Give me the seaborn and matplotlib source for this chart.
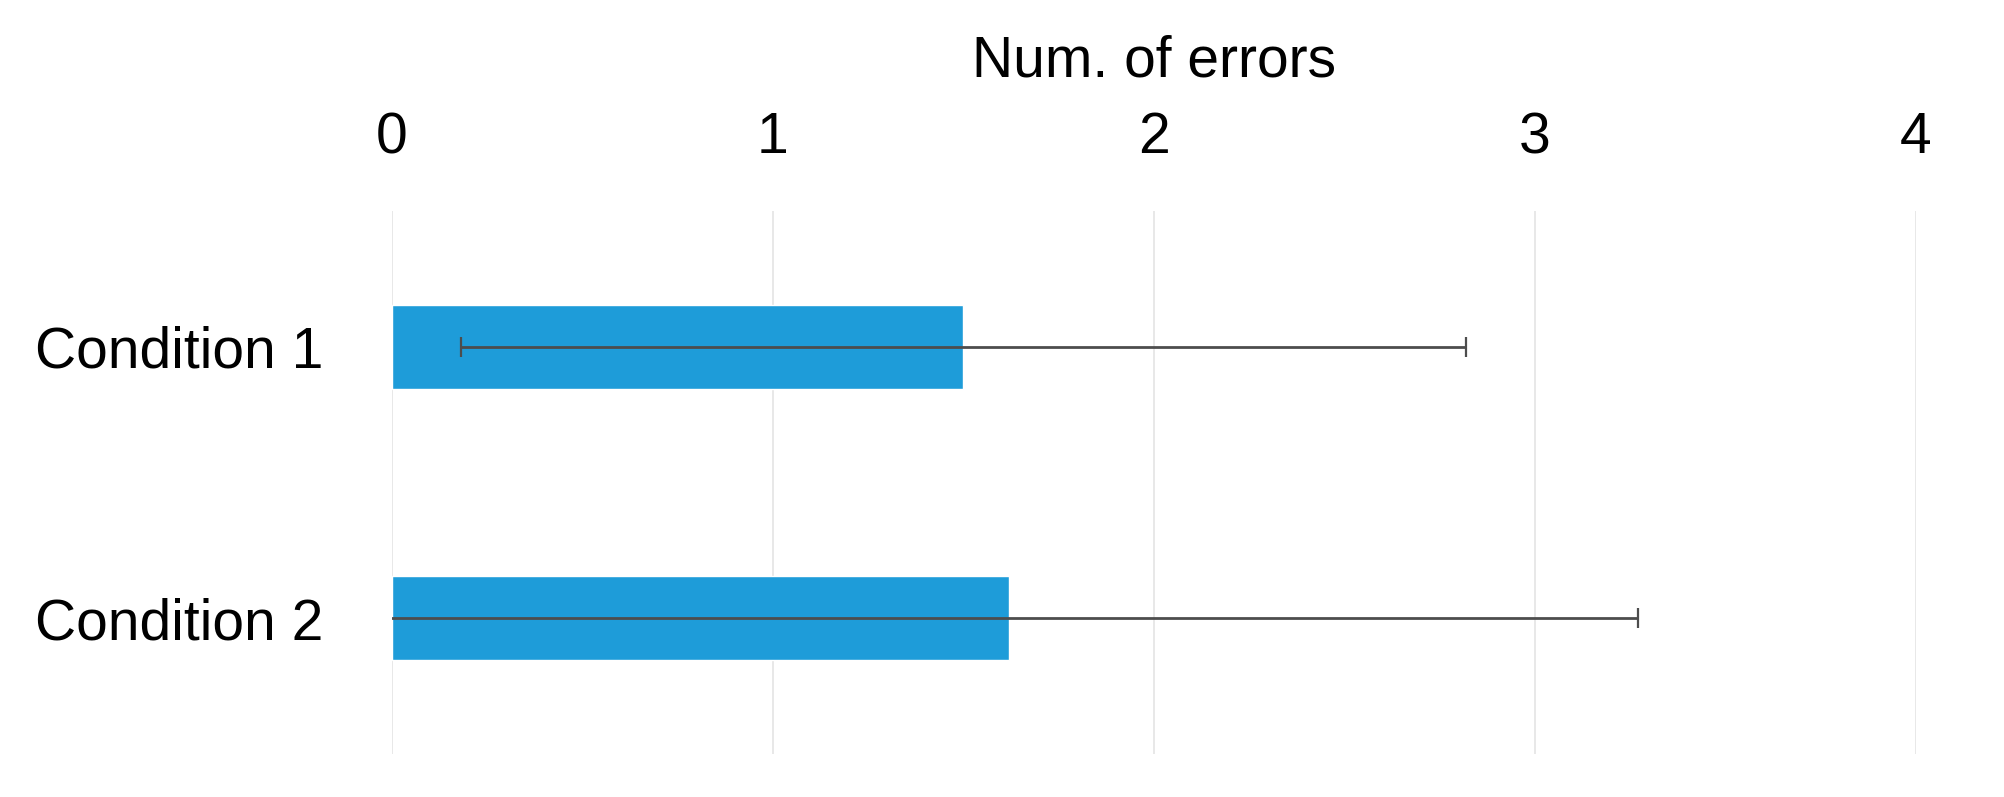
import pandas as pd
import matplotlib
matplotlib.use("Agg")
import matplotlib.pyplot as plt
import seaborn as sns

conditions = ["Condition 1", "Condition 2"]
mean_errors = [1.50, 1.62]
err_sd = [1.32, 1.65]
x_ticks = [0, 1, 2, 3, 4]

sns.set_style("white")
plt.rcParams["font.family"] = ["Liberation Sans", "DejaVu Sans"]
plt.rcParams["text.color"] = "black"
plt.rcParams["xtick.color"] = "black"
plt.rcParams["ytick.color"] = "black"
plt.rcParams["axes.labelcolor"] = "black"

df = pd.DataFrame({"condition": conditions, "errors": mean_errors})

fig = plt.figure(figsize=(20.04, 7.97), dpi=100)
ax = fig.add_axes([0.1956, 0.054, 0.7604, 0.681])

sns.barplot(data=df, x="errors", y="condition", orient="h",
            color="#1e9cd9", saturation=1, width=0.31,
            errorbar=None, ax=ax, zorder=2)

# error bars drawn separately, at the bar centres
ax.errorbar(df["errors"], range(len(conditions)), xerr=err_sd,
            fmt="none", ecolor="#4d4d4d", elinewidth=2.0,
            capsize=7, capthick=1.6, zorder=3)

ax.set_xlim(0, 4)
ax.set_ylim(1.5, -0.5)
ax.set_xticks(x_ticks)
ax.xaxis.tick_top()
ax.xaxis.set_label_position("top")
ax.set_xlabel("Num. of errors", fontsize=41, labelpad=25)
ax.set_ylabel("")
ax.tick_params(axis="x", length=0, labelsize=41, pad=33)
ax.tick_params(axis="y", length=0, labelsize=41, pad=257)
for lbl in ax.get_yticklabels():
    lbl.set_horizontalalignment("left")

ax.grid(axis="x", color="#e8e8e8", linewidth=1.4, zorder=0)
ax.set_axisbelow(True)
sns.despine(ax=ax, left=True, bottom=True, top=True, right=True)

fig.savefig("out.png", dpi=100)
